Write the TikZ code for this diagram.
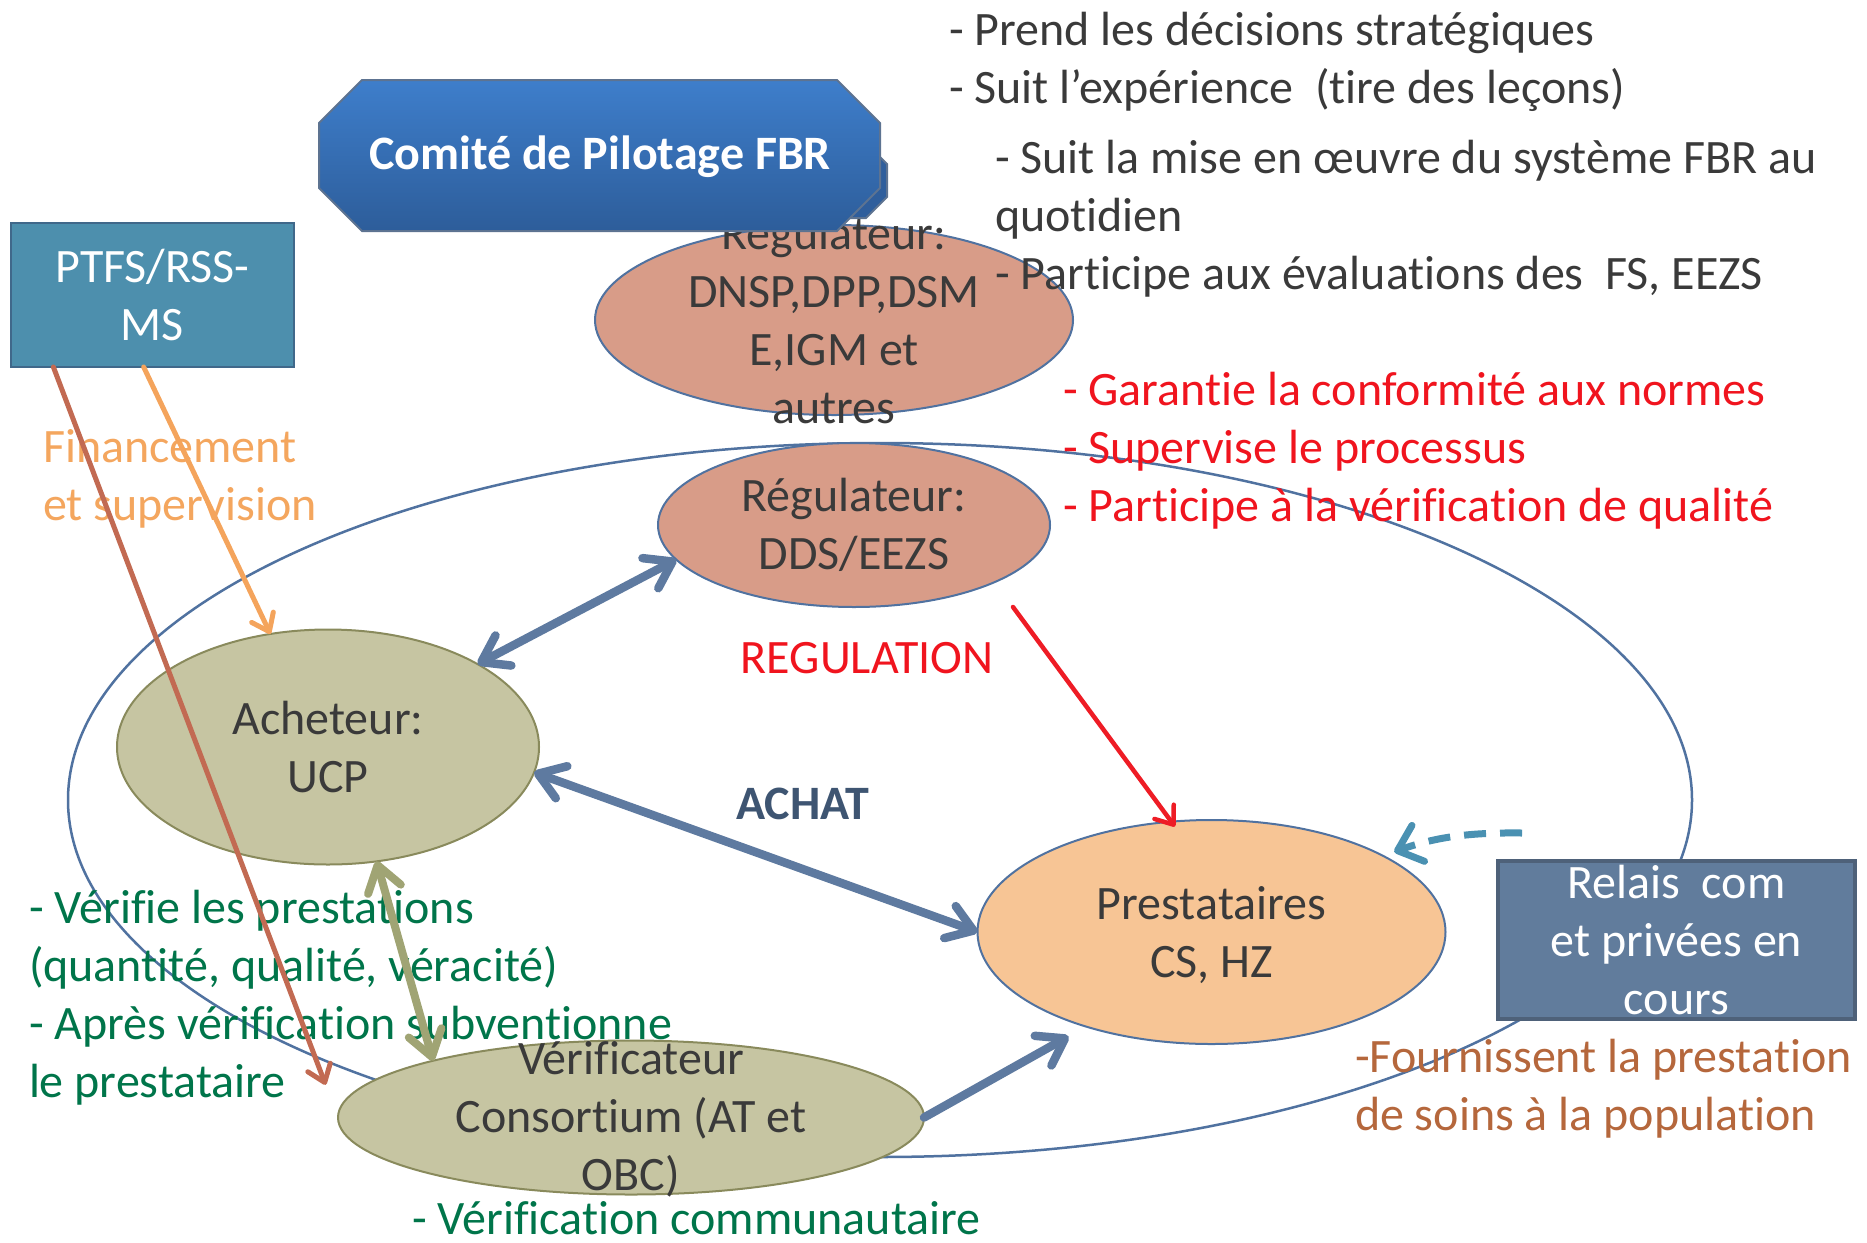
\documentclass[tikz,border=0pt]{standalone}
\usepackage{fontspec}
\setmainfont[Ligatures={NoCommon}]{Carlito}
\usetikzlibrary{arrows.meta,shapes.geometric,calc}
\definecolor{txt}{HTML}{3A3A3A}
\definecolor{slate}{HTML}{5E7AA0}
\definecolor{salmon}{HTML}{D89C88}
\definecolor{khaki}{HTML}{C6C5A2}
\definecolor{khakiedge}{HTML}{898A5C}
\definecolor{peach}{HTML}{F7C595}
\definecolor{ellblue}{HTML}{5072A0}
\definecolor{ptfsfill}{HTML}{4D8FAD}
\definecolor{ptfsedge}{HTML}{40688A}
\definecolor{relaisfill}{HTML}{617C9C}
\definecolor{relaisedge}{HTML}{4E6179}
\definecolor{olivearr}{HTML}{A0A474}
\definecolor{orangearr}{HTML}{F4A45C}
\definecolor{brownarr}{HTML}{C26A52}
\definecolor{redarr}{HTML}{EE1C25}
\definecolor{redtxt}{HTML}{F0141E}
\definecolor{greentxt}{HTML}{00754A}
\definecolor{orangetxt}{HTML}{F4A65E}
\definecolor{browntxt}{HTML}{B5673C}
\definecolor{achatc}{HTML}{3E5572}
\definecolor{dashblue}{HTML}{4A91B2}
\definecolor{comtop}{HTML}{3E7ECB}
\definecolor{combot}{HTML}{2D5D9A}
\definecolor{comback}{HTML}{2F5E9C}
\definecolor{comedge}{HTML}{5D7391}
\tikzset{
  every node/.style={font=\fontsize{48}{58}\selectfont, inner sep=0pt, outer sep=0pt},
  ell/.style={ellipse, draw=ellblue, line width=2pt},
  lbl/.style={text=txt, align=center},
  blk/.style={anchor=west, align=left},
  bigbarb/.tip={Straight Barb[length=25pt,width=34pt,round]},
  smallbarb/.tip={Straight Barb[length=16pt,width=24pt,round]},
  fatarrow/.style={line width=8.5pt, draw=slate, line cap=round},
  thinarrow/.style={line width=5pt, line cap=round},
}
\begin{document}
\begin{tikzpicture}[x=1pt,y=-1pt]
\useasboundingbox (0,0) rectangle (1867,1242);
% outer ellipse
\draw[draw=ellblue, line width=2.5pt] (880,800) ellipse [x radius=812pt, y radius=357pt];
% top regulator
\node[ell, fill=salmon, minimum width=478pt, minimum height=190pt] (reg1) at (834,320) {};
\node[lbl] (reg1t) at (reg1) {Régulateur:\\DNSP,DPP,DSM\\E,IGM et\\autres};
% Comite de pilotage
\path[fill=comback, draw=comedge, line width=2pt]
  (840,117) -- (887,164) -- (887,197) -- (866,218) -- (400,218) -- (400,117) -- cycle;
\path[top color=comtop, bottom color=combot, draw=comedge, line width=2pt]
  (319,123) -- (362,80) -- (837,80) -- (880,123) -- (880,188) -- (837,231) -- (362,231) -- (319,188) -- cycle;
\node[text=white, font=\fontsize{48}{58}\selectfont\bfseries] (comite) at (600,157) {Comité de Pilotage FBR};
% PTFS
\node[rectangle, fill=ptfsfill, draw=ptfsedge, line width=2.5pt, minimum width=283pt, minimum height=144pt, text=white, align=center] (ptfs) at (152.5,295) {PTFS/RSS-\\MS};
% ellipses
\node[ell, fill=salmon, minimum width=392pt, minimum height=164pt] (dds) at (854,525) {};
\node[lbl] (ddst) at (dds) {Régulateur:\\DDS/EEZS};
\node[ell, fill=khaki, draw=khakiedge, minimum width=422pt, minimum height=235pt] (ach) at (328,747) {};
\node[lbl] (acht) at (ach) {Acheteur:\\UCP};
\node[ell, fill=peach, minimum width=468pt, minimum height=224pt] (pre) at (1211.5,932) {};
\node[lbl] (pret) at ([yshift=-3pt]pre.center) {Prestataires\\CS, HZ};
\node[ell, fill=khaki, draw=khakiedge, minimum width=586pt, minimum height=154pt] (ver) at (631,1117.5) {};
\node[lbl] (vert) at ([yshift=-2pt]ver.center) {Vérificateur\\Consortium (AT et\\OBC)};
% Relais
\node[rectangle, fill=relaisfill, draw=relaisedge, line width=4pt, minimum width=357pt, minimum height=158pt] (relais) at (1676.5,940) {};
\node[text=white, align=center] (relaist) at (relais) {Relais~ com\\et privées en\\cours};
% texts
\node[blk, text=txt] (t1) at (949,62) {- Prend les décisions stratégiques\\- Suit l’expérience~ (tire des leçons)};
\node[blk, text=txt] (t2) at (995,218.5) {- Suit la mise en œuvre du système FBR au\\quotidien\\- Participe aux évaluations des~ FS, EEZS};
\node[blk, text=redtxt] (t3) at (1063,451) {- Garantie la conformité aux normes\\- Supervise le processus\\- Participe à la vérification de qualité};
\node[text=redtxt] (regul) at (867,658) {REGULATION};
\node[text=achatc, font=\fontsize{48}{58}\selectfont\bfseries] (achat) at (803,804) {ACHAT};
\node[blk, text=orangetxt] (fin) at (43,479) {Financement\\et supervision};
\node[blk, text=greentxt] (verif) at (29,998) {- Vérifie les prestations\\(quantité, qualité, véracité)\\- Après vérification subventionne\\le prestataire};
\node[blk, text=greentxt] (vcom) at (412,1218) {- Vérification communautaire};
\node[blk, text=browntxt] (four) at (1355,1089) {-Fournissent la prestation\\de soins à la population};
% arrows
\draw[fatarrow, bigbarb-bigbarb] (dds.191) -- (ach.29);
\draw[fatarrow, bigbarb-bigbarb] (ach.-7) -- (pre.180);
\draw[fatarrow, -bigbarb, shorten >=20pt] (ver.0) -- (pre.217);
\draw[line width=8pt, draw=olivearr, line cap=round, bigbarb-bigbarb] (ach.-67) -- (ver.164);
\coordinate (redstart) at (1013,607);
\draw[thinarrow, draw=redarr, line width=4.5pt, -smallbarb, shorten >=-6pt] (redstart) -- (pre.110);
\draw[thinarrow, draw=orangearr, -smallbarb] (ptfs.-97) -- (ach.117);
\draw[thinarrow, draw=brownarr, -smallbarb, shorten >=35pt] (ptfs.216) -- (ver.west);
\coordinate (dashstart) at (1522,833);
\draw[line width=7pt, draw=dashblue, dash pattern=on 22pt off 14pt, shorten >=12pt, -{Straight Barb[length=22pt,width=38pt,round]}] (dashstart) to[bend right=10] (pre.24);
\end{tikzpicture}
\end{document}
